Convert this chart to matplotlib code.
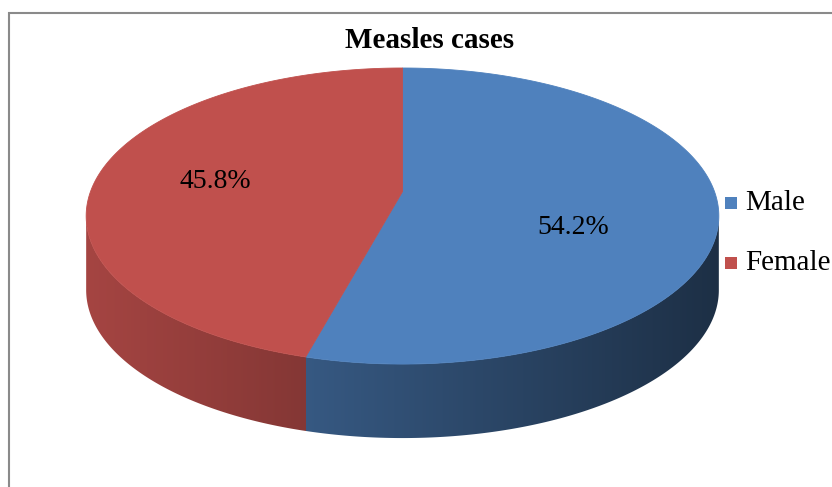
import numpy as np
import matplotlib
matplotlib.use("Agg")
import matplotlib.pyplot as plt
from matplotlib.patches import Polygon, Rectangle
from matplotlib.lines import Line2D

# Chart data
labels = ["Male", "Female"]
shares = [54.2, 45.8]
colors = ["#4F81BD", "#C0504D"]
title = "Measles cases"

# Layout (pixel coordinates)
W, H = 832, 487
cx, cy, a, b, depth = 402.5, 191.6, 312.0, 144.0, 74.0
persp = 0.165          # strength of the perspective foreshortening
label_xy = [(573, 228), (215, 181)]
serif = ["Liberation Serif", "DejaVu Serif"]

fig = plt.figure(figsize=(W / 100, H / 100), dpi=100)
ax = fig.add_axes([0, 0, 1, 1])
ax.set_xlim(0, W)
ax.set_ylim(H, 0)
ax.axis("off")


def project(t_deg, dy=0.0):
    """Screen position of a rim point of the disc at angle t (degrees, ccw)."""
    t = np.radians(np.asarray(t_deg, dtype=float))
    s = 1.0 / (1.0 + persp * np.sin(t))
    return cx + a * np.cos(t) * s, cy - b * np.sin(t) * s + dy


def arc(t0, t1, n=500, dy=0.0):
    x, y = project(np.linspace(t0, t1, n), dy)
    return np.column_stack([x, y])


# Slice angles: start at 12 o'clock and run clockwise
total = float(sum(shares))
spans = []
ang = 90.0
for s in shares:
    sweep = 360.0 * s / total
    spans.append((ang, ang - sweep))
    ang -= sweep


def slice_index(t_deg):
    d = (90.0 - t_deg) % 360.0
    acc = 0.0
    for i, s in enumerate(shares):
        acc += 360.0 * s / total
        if d < acc:
            return i
    return len(shares) - 1


# Silhouette extremes of the rim (where the side wall starts and ends)
t_left = 180.0 + np.degrees(np.arcsin(persp))
t_right = 360.0 - np.degrees(np.arcsin(persp))

# Side wall (front part of the cylinder), shaded left to right
top_edge = arc(t_left, t_right)
bottom_edge = arc(t_right, t_left, dy=depth)
side_poly = Polygon(np.vstack([top_edge, bottom_edge]), closed=True,
                    facecolor="none", edgecolor="none")
ax.add_patch(side_poly)

front_t = np.linspace(t_left, t_right, 2000)
front_x, _ = project(front_t)
x_min = front_x.min()

img = np.ones((H, W, 4))
xs = np.arange(W) + 0.5
for j, x in enumerate(xs):
    t = np.interp(x, front_x, front_t)
    k = slice_index(t)
    rgb = np.array(matplotlib.colors.to_rgb(colors[k]))
    f = np.clip(0.86 - 0.00078 * (x - x_min), 0.37, 1.0)
    img[:, j, :3] = rgb * f
im = ax.imshow(img, extent=(0, W, H, 0), origin="upper",
               interpolation="bilinear", zorder=1)
im.set_clip_path(side_poly)

# Top face slices
for (t0, t1), c in zip(spans, colors):
    pts = np.vstack([[cx, cy], arc(t0, t1)])
    ax.add_patch(Polygon(pts, closed=True, facecolor=c, edgecolor=c,
                         linewidth=0.6, zorder=2))

# Percentage labels
for (x, y), s in zip(label_xy, shares):
    ax.text(x, y, f"{s:.1f}%", ha="center", va="center", fontsize=20,
            family=serif, color="black", zorder=3)

# Title
ax.text(430, 41, title, ha="center", va="center", fontsize=21,
        fontweight="bold", family=serif, color="black")

# Legend
for i, (lab, c) in enumerate(zip(labels, colors)):
    yc = 203 + 60 * i
    ax.add_patch(Rectangle((725, yc - 6), 12, 12, facecolor=c,
                           edgecolor="none"))
    ax.text(745, yc, lab, ha="left", va="center", fontsize=21,
            family=serif, color="black")

# Chart frame
frame = dict(color="#8A8A8A", linewidth=1.5, solid_capstyle="butt")
ax.add_line(Line2D([8.5, 8.5], [12, H], **frame))
ax.add_line(Line2D([8, W], [12.5, 12.5], **frame))

fig.savefig("out.png", dpi=100)
